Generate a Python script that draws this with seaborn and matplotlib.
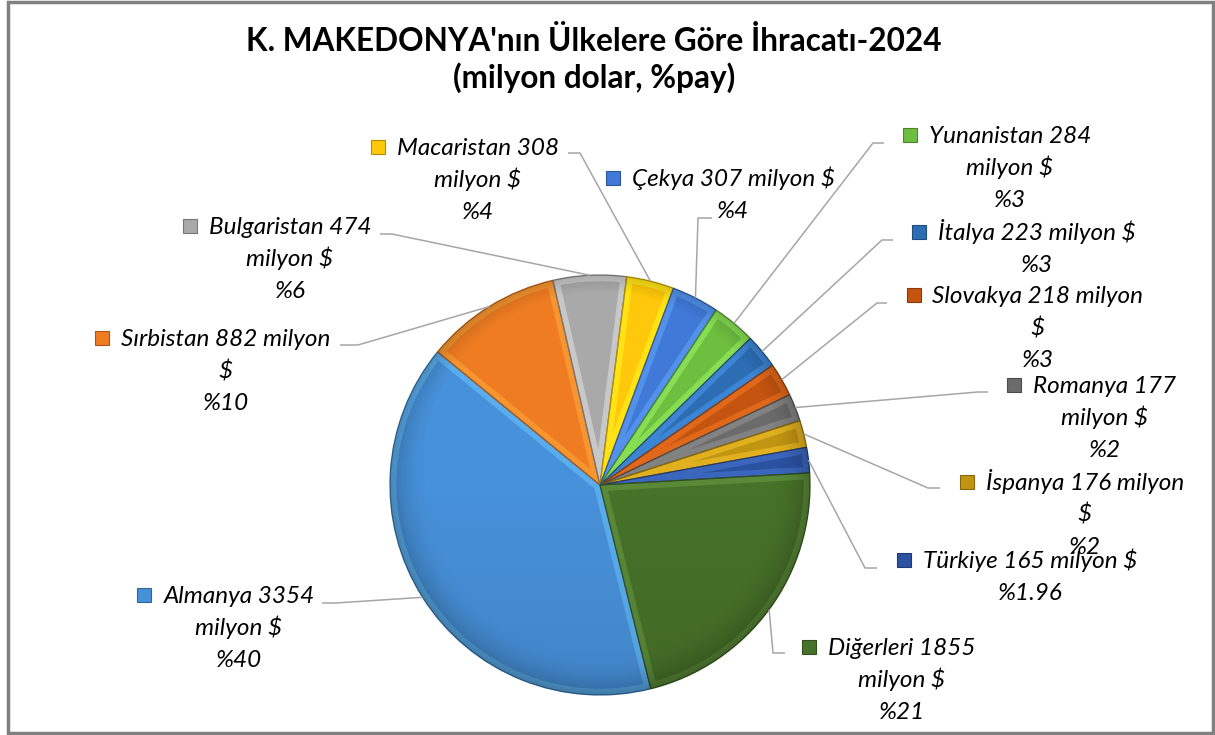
import textwrap
import numpy as np
import matplotlib
matplotlib.use("Agg")
import matplotlib.pyplot as plt
import matplotlib.colors as mcolors
import seaborn as sns
from matplotlib.patches import Rectangle, Wedge, Circle

# data
countries = ["Almanya", "Sırbistan", "Bulgaristan", "Macaristan", "Çekya", "Yunanistan",
             "İtalya", "Slovakya", "Romanya", "İspanya", "Türkiye", "Diğerleri"]
exports = [3354, 882, 474, 308, 307, 284, 223, 218, 177, 176, 165, 1855]
shares = ["40", "10", "6", "4", "4", "3", "3", "3", "2", "2", "1.96", "21"]
colors = ["#4791DA", "#F07C22", "#A9A9A9", "#FFC80A", "#4079D8", "#6EBE40",
          "#2C6DB4", "#C4540F", "#6B6B6B", "#C19412", "#2B52A0", "#477229"]

title = "K. MAKEDONYA'nın Ülkelere Göre İhracatı-2024"
subtitle = "(milyon dolar, %pay)"

# label layout in pixels from top-left: text centre x, first baseline y, wrap width,
# leader start (near the label) and elbow
label_cx = [239, 226, 290, 478, 733, 1010, 1037, 1038, 1105, 1085, 1030, 902]
label_y = [603, 346, 234, 155, 186, 143, 240, 303, 393, 490, 568, 655]
wrap_w = [12, 20, 15, 14, 18, 14, 19, 19, 11, 18, 20, 14]
lead_a = [(322, 603), (340, 345), (380, 234), (568, 153), (712, 218), (884, 143),
          (893, 240), (887, 303), (988, 392), (940, 488), (877, 568), (785, 653)]
lead_e = [(336, 603), (358, 345), (392, 234), (580, 153), (698, 218), (873, 143),
          (882, 240), (877, 303), (978, 392), (928, 488), (865, 568), (773, 653)]

sns.set_theme(style="white")
plt.rcParams["font.family"] = ["Lato", "DejaVu Sans"]

fig = plt.figure(figsize=(12.15, 7.35), dpi=100)
ax = fig.add_axes([0, 0, 1, 1])

cx, cy, R = 600, 485, 210
wedges, _ = ax.pie(exports, colors=colors, startangle=76, counterclock=True,
                   center=(cx, cy), radius=R,
                   wedgeprops=dict(edgecolor="none", linewidth=0))
ax.set_xlim(0, 1215)
ax.set_ylim(735, 0)
ax.set_aspect("equal")
ax.set_axis_off()

# bevel look: light inner band and darker outline on every slice
for w, c in zip(wedges, colors):
    rgb = mcolors.to_rgb(c)
    band = Wedge((cx, cy), R, w.theta1, w.theta2, facecolor="none",
                 edgecolor=[min(1, v * 1.25 + 0.08) for v in rgb], linewidth=9, alpha=0.5)
    band.set_clip_path(w)
    ax.add_patch(band)
    edge = Wedge((cx, cy), R, w.theta1, w.theta2, facecolor="none",
                 edgecolor=[v * 0.7 for v in rgb], linewidth=0.9)
    ax.add_patch(edge)

# soft shading towards the rim
yy, xx = np.mgrid[cy - R:cy + R:1.0, cx - R:cx + R:1.0]
rr = np.hypot(xx - cx, yy - cy) / R
shade = np.zeros(rr.shape + (4,))
shade[..., 3] = np.clip(0.22 * np.clip((rr - 0.8) / 0.2, 0, 1) ** 2 + 0.08 * (yy - cy) / R, 0, 1)
img = ax.imshow(shade, extent=(cx - R, cx + R, cy + R, cy - R), zorder=3)
img.set_clip_path(Circle((cx, cy), R, transform=ax.transData))

# titles
ax.text(594, 51, title, ha="center", va="baseline", fontsize=22.7, fontweight="bold", color="black")
ax.text(594, 88, subtitle, ha="center", va="baseline", fontsize=22.7, fontweight="bold", color="black")

# data labels with leader lines
line_gap = 32
first_lines = []
for i, w in enumerate(wedges):
    txt = f"{countries[i]} {exports[i]} milyon $"
    lines = textwrap.wrap(txt, width=wrap_w[i]) + [f"%{shares[i]}"]
    for k, ln in enumerate(lines):
        t = ax.text(label_cx[i], label_y[i] + k * line_gap, ln, ha="center", va="baseline",
                    fontsize=17.5, fontstyle="italic", color="black", zorder=5)
        if k == 0:
            first_lines.append(t)
    tm = np.deg2rad((w.theta1 + w.theta2) / 2)
    px, py = cx + R * np.cos(tm), cy + R * np.sin(tm)
    ax.plot([lead_a[i][0], lead_e[i][0], px], [lead_a[i][1], lead_e[i][1], py],
            color="#A6A6A6", linewidth=1.1, zorder=4, solid_capstyle="butt")

# legend keys in front of each label
fig.canvas.draw()
inv = ax.transData.inverted()
for i, t in enumerate(first_lines):
    bb = t.get_window_extent()
    x0, _ = inv.transform((bb.x0, bb.y0))
    kx, ky = x0 - 19, label_y[i] - 8
    ax.add_patch(Rectangle((kx - 7, ky - 7), 14, 14, facecolor=colors[i],
                           edgecolor=[v * 0.7 for v in mcolors.to_rgb(colors[i])],
                           linewidth=0.8, zorder=5))

# chart area border
ax.add_patch(Rectangle((8, 1.5), 1205, 731, fill=False, edgecolor="#808080",
                       linewidth=2.5, clip_on=False, zorder=6))

fig.savefig("out.png", dpi=100, facecolor="white")
